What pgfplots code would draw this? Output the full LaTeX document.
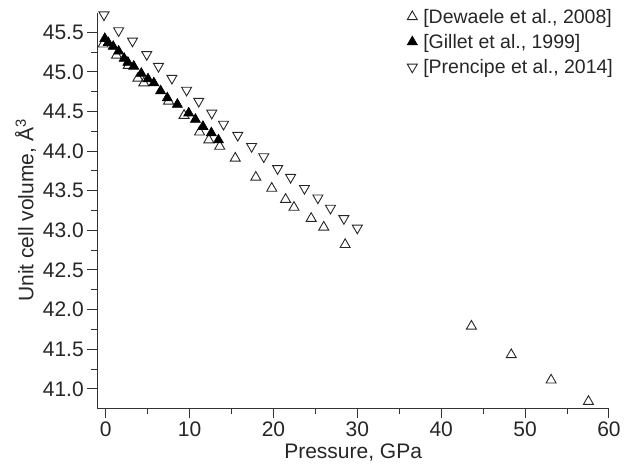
\documentclass[border=0pt]{standalone}
\usepackage{pgfplots}
\pgfplotsset{compat=1.18}
\usepackage{fontspec}
\setmainfont{Liberation Sans}
\begin{document}
\begin{tikzpicture}
\begin{axis}[
  scale only axis,
  width=512pt, height=395.6pt,
  xmin=-1, xmax=60, ymin=40.757, ymax=45.747,
  axis lines*=left,
  axis line style={black!80, line width=1pt},
  every tick/.style={black!80, line width=1pt},
  tick align=outside,
  major tick length=10pt,
  minor tick length=6pt,
  xtick={0,10,...,60},
  ytick={41,41.5,...,45.5},
  minor x tick num=1,
  minor y tick num=1,
  /pgf/number format/assume math mode=true,
  yticklabel style={/pgf/number format/.cd, fixed, fixed zerofill, precision=1},
  xticklabel style={/pgf/number format/.cd, fixed, precision=0},
  tick label style={font=\fontsize{21}{24}\selectfont, text=black!85},
  label style={font=\fontsize{21}{24}\selectfont, text=black!85},
  xlabel={Pressure, GPa},
  ylabel={Unit cell volume, Å\textsuperscript{3}},
  legend style={draw=none, fill=none, at={(1.012,1.015)}, anchor=north east,
    font=\fontsize{19.5}{23}\selectfont, text=black!85, row sep=5.5pt,
    inner sep=0pt},
  legend cell align=left,
  clip=false,
]
\addplot[only marks, mark=triangle, mark size=5.8pt, mark options={black!85, line width=0.9pt}] coordinates {
(-0.3,45.35) (1.3,45.21) (2.7,45.08) (3.85,44.92) (4.55,44.86) (7.5,44.63)
(9.35,44.45) (11.2,44.24) (12.3,44.14) (13.6,44.06) (15.45,43.91) (17.9,43.67)
(19.8,43.53) (21.45,43.39) (22.45,43.29) (24.5,43.15) (26.0,43.04) (28.55,42.82)
(43.6,41.79) (48.35,41.43) (53.1,41.11) (57.55,40.84)
};
\addlegendentry{\hspace*{4pt}[Dewaele et al., 2008]}
\addplot[only marks, mark=triangle*, mark size=5.8pt, mark options={black, fill=black, line width=0.6pt}] coordinates {
(-0.1,45.42) (0.3,45.37) (0.9,45.32) (1.55,45.26) (2.2,45.17) (2.65,45.12)
(3.35,45.07) (4.25,44.98) (5.05,44.91) (5.75,44.86) (6.55,44.76) (7.35,44.67)
(8.55,44.59) (9.9,44.48) (10.7,44.40) (11.6,44.31) (12.6,44.23) (13.45,44.14)
};
\addlegendentry{\hspace*{4pt}[Gillet et al., 1999]}
\addplot[only marks, mark=triangle, mark size=5.8pt, mark options={black!85, line width=0.9pt, rotate=180}] coordinates {
(-0.2,45.72) (1.55,45.52) (3.2,45.39) (4.9,45.22) (6.3,45.07) (7.9,44.92)
(9.65,44.77) (11.1,44.63) (12.65,44.48) (14.05,44.34) (15.75,44.20) (17.4,44.06)
(18.85,43.93) (20.5,43.78) (22.05,43.67) (23.7,43.53) (25.3,43.41) (26.8,43.28)
(28.4,43.15) (30.0,43.03)
};
\addlegendentry{\hspace*{4pt}[Prencipe et al., 2014]}
\coordinate (SW) at (rel axis cs:0,0);
\end{axis}
\path (SW) ++(-97.3pt,-57.7pt) rectangle ++(624pt,466pt);
\end{tikzpicture}
\end{document}
